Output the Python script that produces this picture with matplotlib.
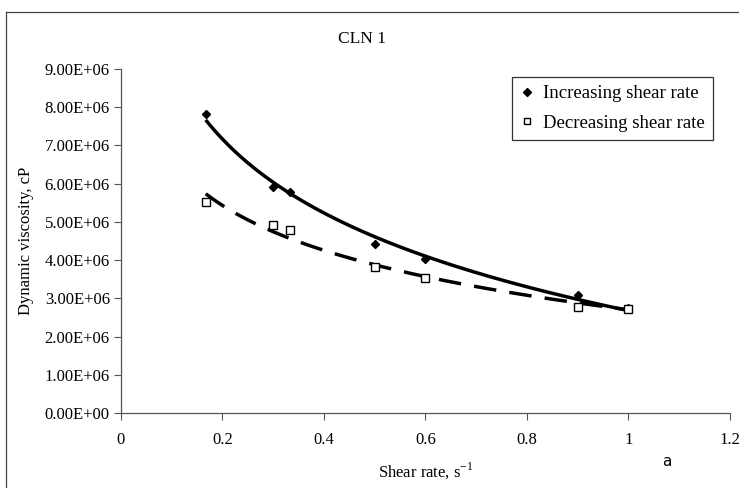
import matplotlib.pyplot as plt
import numpy as np
from matplotlib.ticker import FuncFormatter
from matplotlib.lines import Line2D

plt.rcParams['font.family'] = ['Liberation Serif', 'DejaVu Serif']
plt.rcParams['mathtext.fontset'] = 'custom'
plt.rcParams['mathtext.rm'] = 'Liberation Serif'

# shear rate (1/s) and dynamic viscosity (cP)
shear_rate = [0.167, 0.3, 0.333, 0.5, 0.6, 0.9, 1.0]
visc_increasing = [7.81e6, 5.92e6, 5.78e6, 4.42e6, 4.03e6, 3.10e6, 2.75e6]
visc_decreasing = [5.51e6, 4.93e6, 4.79e6, 3.83e6, 3.52e6, 2.77e6, 2.72e6]


def log_fit(x, y):
    # logarithmic trend line y = a*ln(x) + b
    a, b = np.polyfit(np.log(x), y, 1)
    xx = np.linspace(min(x), max(x), 200)
    return xx, a * np.log(xx) + b


fig = plt.figure(figsize=(7.39, 4.88), dpi=100)
ax = fig.add_axes([0.1637, 0.1537, 0.8241, 0.7049])

xi, yi = log_fit(shear_rate, visc_increasing)
xd, yd = log_fit(shear_rate, visc_decreasing)
ax.plot(xi, yi, color='black', lw=2.5, solid_capstyle='butt')
ax.plot(xd, yd, color='black', lw=2.5, dashes=(6.5, 3.8))

ax.plot(shear_rate, visc_increasing, 'D', color='black', ms=4.5, ls='none')
ax.plot(shear_rate, visc_decreasing, 's', mfc='white', mec='black', mew=1, ms=5.5, ls='none')

ax.set_xlim(0, 1.2)
ax.set_ylim(0, 9e6)
ax.set_xticks(np.arange(0, 1.21, 0.2))
ax.set_yticks(np.arange(0, 9.01e6, 1e6))
ax.xaxis.set_major_formatter(FuncFormatter(lambda v, p: f"{v:g}"))
ax.yaxis.set_major_formatter(FuncFormatter(lambda v, p: f"{v:.2E}"))
ax.tick_params(labelsize=12, direction='out', length=5, width=0.8, color='#555555')
ax.tick_params(axis='x', pad=9)
ax.tick_params(axis='y', pad=3)
for s in ['top', 'right']:
    ax.spines[s].set_visible(False)
for s in ['left', 'bottom']:
    ax.spines[s].set_color('#555555')
    ax.spines[s].set_linewidth(0.9)

ax.set_xlabel("Shear rate, s$^{-1}$", fontsize=12, labelpad=9)
ax.set_ylabel("Dynamic viscosity, cP", fontsize=12, labelpad=8)
fig.text(0.49, 0.92, "CLN 1", fontsize=12.5, ha='center', va='center')
fig.text(0.9026, 0.054, "a", fontsize=11, ha='center', va='center', family='DejaVu Sans')

handles = [Line2D([], [], marker='D', color='black', ms=4.5, ls='none'),
           Line2D([], [], marker='s', mfc='white', mec='black', mew=1, ms=5, ls='none')]
leg = ax.legend(handles, ["Increasing shear rate", "Decreasing shear rate"],
                loc='upper right', bbox_to_anchor=(0.972, 0.977), borderaxespad=0,
                fontsize=13.5, frameon=True, fancybox=False, edgecolor='black',
                handlelength=0.7, handletextpad=0.5, borderpad=0.45, labelspacing=0.65)
leg.get_frame().set_linewidth(0.9)

# outer chart frame
fig.add_artist(Line2D([6/739, 6/739], [0, 1 - 12/488], color='#444444', lw=0.9))
fig.add_artist(Line2D([6/739, 1], [1 - 12/488, 1 - 12/488], color='#444444', lw=0.9))

fig.savefig("out.png", dpi=100)
